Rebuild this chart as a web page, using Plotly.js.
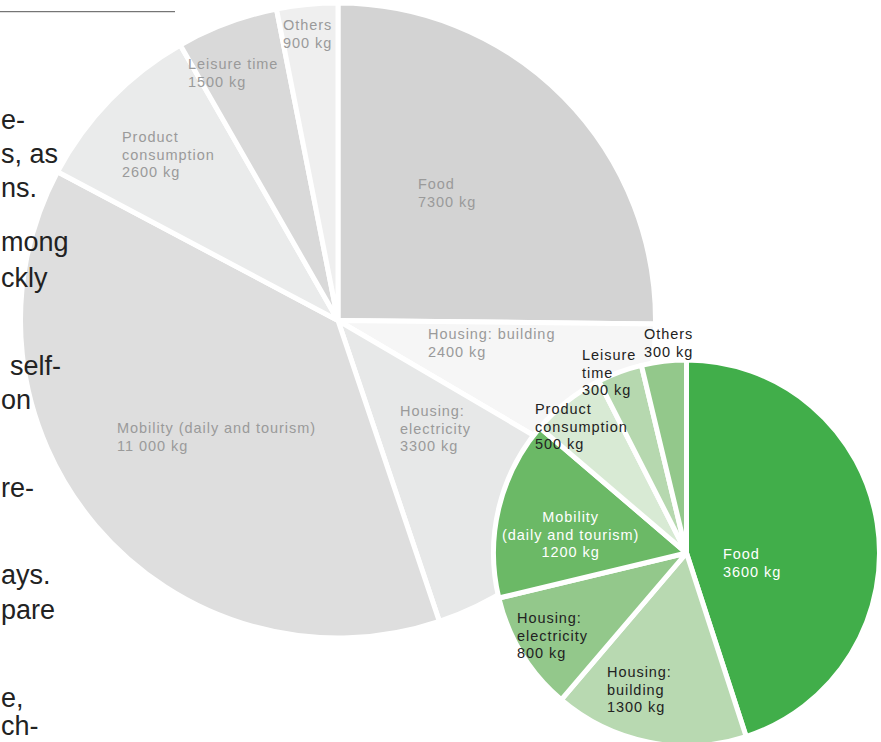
<!DOCTYPE html>
<html><head><meta charset="utf-8">
<script src="https://cdn.plot.ly/plotly-3.0.1.min.js"></script>
<style>
html,body{margin:0;padding:0;background:#fff;overflow:hidden}
#wrap{width:881px;height:742px;overflow:hidden;position:relative}
</style>
</head><body><div id="wrap"><div id="chart"></div></div>
<script>
// ---- data ----
const categories = ['Food','Housing: building','Housing: electricity','Mobility (daily and tourism)','Product consumption','Leisure time','Others'];
const todayValues = [7300, 2400, 3300, 11000, 2600, 1500, 900];
const targetValues = [3600, 1300, 800, 1200, 500, 300, 300];
const todayLabelLines = [['Food'],['Housing: building'],['Housing:','electricity'],['Mobility (daily and tourism)'],['Product','consumption'],['Leisure time'],['Others']];
const targetLabelLines = [['Food'],['Housing:','building'],['Housing:','electricity'],['Mobility','(daily and tourism)'],['Product','consumption'],['Leisure','time'],['Others']];
const unit = 'kg';
const paragraphFragments = ['e-','s, as','ns.','mong','ckly','self-','on','re-','ays.','pare','e,','ch-'];

// ---- styles / layout ----
const W = 881, H = 760;
const todayColors = ['#d3d3d3','#f6f6f6','#e7e8e8','#dedede','#eaebeb','#d9d9d9','#efefef'];
const targetColors = ['#41ae4a','#b8d9b1','#93c88b','#6bb966','#d8ead4','#b6d8af','#93c88b'];
const todayPie = {cx: 338, cy: 320.5, r: 317.5};
const targetPie = {cx: 686.5, cy: 553, r: 193};
const todayLabelPos = [[418,179],[428,329],[400,406],[117,423],[122,132],[188,59],[283,20]];
const targetLabelPos = [[723,549],[607,667],[517,613],[570,512],[535,404],[582,350],[644,329]];
const targetLabelAnchor = ['left','left','left','center','left','left','left'];
const targetLabelColor = ['#ffffff','#222222','#222222','#ffffff','#222222','#222222','#222222'];
const fragLeft = [1,1,1,1,1,10,1,1,1,1,1,1];
const fragBaseline = [129,163,197,251,287,375,409,497,584,619,707,735];

const FONT = 'Liberation Sans, Arial, Helvetica, sans-serif';
const LINE_BASE = 13.5, LABEL_SIZE = 14.5, FRAG_SIZE = 27;

function dom(p){
  return {x: [(p.cx - p.r)/W, (p.cx + p.r)/W], y: [(H - p.cy - p.r)/H, (H - p.cy + p.r)/H]};
}
function fmt(v){
  const s = String(v);
  return v >= 10000 ? s.replace(/\B(?=(\d{3})+(?!\d))/g, ' ') : s;
}
function spaced(t){ return '<span style="font-size:' + LABEL_SIZE + 'px;letter-spacing:0.95px">' + t + '</span>'; }
function labelText(lines, v){
  return lines.concat([fmt(v) + ' ' + unit]).map(spaced).join('<br>');
}
const px = x => x / W, py = y => 1 - y / H;
const capOffset = (0.905 - 0.716) * LABEL_SIZE;

const data = [
  {type:'pie', labels: categories, values: todayValues, sort:false, direction:'clockwise', rotation:0,
   marker:{colors: todayColors, line:{color:'#ffffff', width:5}}, textinfo:'none', hoverinfo:'skip',
   domain: dom(todayPie), showlegend:false},
  {type:'pie', labels: categories, values: targetValues, sort:false, direction:'clockwise', rotation:0,
   marker:{colors: targetColors, line:{color:'#ffffff', width:5}}, textinfo:'none', hoverinfo:'skip',
   domain: dom(targetPie), showlegend:false}
];

const annotations = [];
categories.forEach((c, i) => {
  annotations.push({
    xref:'paper', yref:'paper', x: px(todayLabelPos[i][0]), y: py(todayLabelPos[i][1] - capOffset),
    xanchor:'left', yanchor:'top', align:'left', showarrow:false, borderpad:0, borderwidth:0,
    text: labelText(todayLabelLines[i], todayValues[i]),
    font:{family: FONT, size: LINE_BASE, color:'#9a9a9a'}
  });
  annotations.push({
    xref:'paper', yref:'paper', x: px(targetLabelPos[i][0]), y: py(targetLabelPos[i][1] - capOffset),
    xanchor: targetLabelAnchor[i], yanchor:'top', align: targetLabelAnchor[i], showarrow:false, borderpad:0, borderwidth:0,
    text: labelText(targetLabelLines[i], targetValues[i]),
    font:{family: FONT, size: LINE_BASE, color: targetLabelColor[i]}
  });
});
paragraphFragments.forEach((t, i) => {
  annotations.push({
    xref:'paper', yref:'paper', x: px(fragLeft[i]), y: py(fragBaseline[i] - 0.3465 * FRAG_SIZE),
    xanchor:'left', yanchor:'middle', align:'left', showarrow:false, borderpad:0, borderwidth:0,
    text: t, font:{family: FONT, size: FRAG_SIZE, color:'#222222'}
  });
});

const layout = {
  width: W, height: H, margin:{l:0, r:0, t:0, b:0}, paper_bgcolor:'#ffffff', plot_bgcolor:'#ffffff',
  showlegend:false, annotations: annotations,
  shapes:[{type:'line', xref:'paper', yref:'paper', x0: px(0), x1: px(175), y0: py(11.7), y1: py(11.7),
           line:{color:'#555555', width:1}}]
};
Plotly.newPlot('chart', data, layout, {staticPlot:true, displayModeBar:false});
</script>
</body></html>
